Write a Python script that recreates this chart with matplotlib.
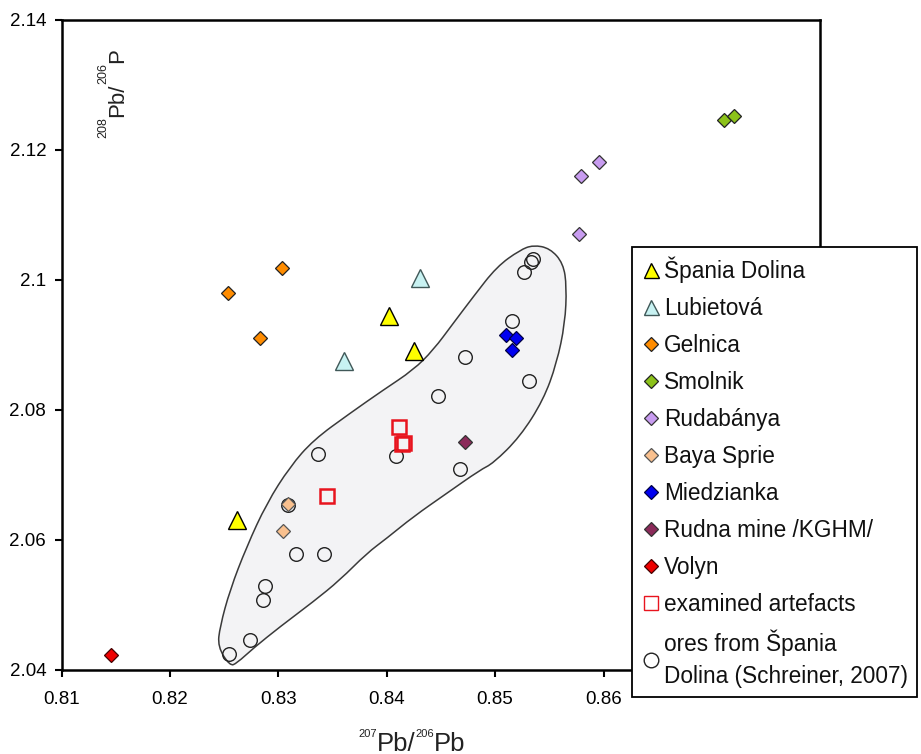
import numpy as np
import matplotlib
matplotlib.use("Agg")
import matplotlib.pyplot as plt
from matplotlib.path import Path
from matplotlib.patches import PathPatch
from matplotlib.lines import Line2D

plt.rcParams['font.family'] = ['Liberation Sans', 'DejaVu Sans']

# ---------------- data ----------------
spania_x = [0.8262, 0.8402, 0.8425]
spania_y = [2.0631, 2.0944, 2.0890]
lubietova_x = [0.8361, 0.8431]
lubietova_y = [2.0876, 2.1003]
gelnica_x = [0.8254, 0.8283, 0.8303]
gelnica_y = [2.0980, 2.0911, 2.1018]
smolnik_x = [0.8711, 0.8720]
smolnik_y = [2.1246, 2.1253]
rudabanya_x = [0.8577, 0.8579, 0.8596]
rudabanya_y = [2.1071, 2.1160, 2.1182]
baya_x = [0.8304, 0.8309]
baya_y = [2.0614, 2.0656]
miedzianka_x = [0.8510, 0.8519, 0.8516]
miedzianka_y = [2.0915, 2.0911, 2.0892]
rudna_x = [0.8472]
rudna_y = [2.0750]
volyn_x = [0.8146]
volyn_y = [2.0423]
artefacts_x = [0.8345, 0.8411, 0.8414, 0.8416]
artefacts_y = [2.0668, 2.0774, 2.0747, 2.0749]
ores_x = [0.82545, 0.8274, 0.82856, 0.8288, 0.8316, 0.8342, 0.8309, 0.8337,
          0.8409, 0.8468, 0.8447, 0.8472, 0.8516, 0.8531, 0.8527, 0.8533, 0.8535]
ores_y = [2.0424, 2.0446, 2.0508, 2.0529, 2.0578, 2.0578, 2.0654, 2.0733,
          2.0729, 2.0709, 2.0822, 2.0881, 2.0937, 2.0844, 2.1012, 2.1027, 2.1033]

# outline of the shaded Špania Dolina ore field
region_x = [0.82554, 0.82441, 0.82462, 0.82554, 0.82708, 0.82893, 0.83108, 0.83323,
            0.83661, 0.83969, 0.84245, 0.84430, 0.84614, 0.84799, 0.85015, 0.85230,
            0.85352, 0.85506, 0.85629, 0.85660, 0.85645, 0.85568, 0.85445, 0.85230,
            0.84983, 0.84861, 0.84554, 0.84245, 0.84000, 0.83816, 0.83569, 0.83323,
            0.83016, 0.82769, 0.82616]
region_y = [2.04062, 2.04358, 2.04666, 2.05231, 2.05897, 2.06565, 2.07128, 2.07538,
            2.07949, 2.08308, 2.08615, 2.08923, 2.09334, 2.09743, 2.10205, 2.10462,
            2.10538, 2.10488, 2.10257, 2.09897, 2.09334, 2.08718, 2.08154, 2.07589,
            2.07180, 2.07077, 2.06718, 2.06358, 2.06026, 2.05795, 2.05385, 2.05051,
            2.04666, 2.04334, 2.04103]

xticks = [0.81, 0.82, 0.83, 0.84, 0.85, 0.86, 0.87, 0.88]
xticklabels = ['0.81', '0.82', '0.83', '0.84', '0.85', '0.86', '', '']
yticks = [2.04, 2.06, 2.08, 2.10, 2.12, 2.14]
yticklabels = ['2.04', '2.06', '2.08', '2.1', '2.12', '2.14']

legend_labels = ['Špania Dolina', 'Lubietová', 'Gelnica', 'Smolnik', 'Rudabánya',
                 'Baya Sprie', 'Miedzianka', 'Rudna mine /KGHM/', 'Volyn',
                 'examined artefacts', 'ores from Špania\nDolina (Schreiner, 2007)']

# ---------------- figure ----------------
fig = plt.figure(figsize=(9.21, 7.54), dpi=100)
ax = fig.add_axes([61.5 / 921, 1 - 670 / 754, (820.3 - 61.5) / 921, 650 / 754])
ax.set_xlim(0.81, 0.88)
ax.set_ylim(2.04, 2.14)

# shaded field
pts = np.column_stack([region_x, region_y])
mids = (pts + np.roll(pts, -1, axis=0)) / 2
verts = [mids[-1]]
codes = [Path.MOVETO]
for i in range(len(pts)):
    verts += [pts[i], mids[i]]
    codes += [Path.CURVE3, Path.CURVE3]
verts.append(mids[-1])
codes.append(Path.CLOSEPOLY)
ax.add_patch(PathPatch(Path(verts, codes), facecolor='#f3f3f5', edgecolor='#3a3a3a',
                       lw=1.1, zorder=1))

dkw = dict(ls='none', marker='D', ms=6.8, mew=0.9, zorder=4)
ax.plot(ores_x, ores_y, ls='none', marker='o', ms=9.8, mfc='none', mec='#222222', mew=1.0, zorder=3)
ax.plot(artefacts_x, artefacts_y, ls='none', marker='s', ms=10.5, mfc='none', mec='#e8141e', mew=1.8, zorder=5)
ax.plot(spania_x, spania_y, ls='none', marker='^', ms=12.5, mfc='#ffff00', mec='black', mew=1.0, zorder=4)
ax.plot(lubietova_x, lubietova_y, ls='none', marker='^', ms=12.5, mfc='#c8f2f2', mec='#405858', mew=1.0, zorder=4)
ax.plot(gelnica_x, gelnica_y, mfc='#ff8c00', mec='#222222', **dkw)
ax.plot(smolnik_x, smolnik_y, mfc='#8cc21a', mec='#222222', **dkw)
ax.plot(rudabanya_x, rudabanya_y, mfc='#c89cf0', mec='#333333', **dkw)
ax.plot(baya_x, baya_y, mfc='#f9c08e', mec='#555555', **dkw)
ax.plot(miedzianka_x, miedzianka_y, mfc='#0000f0', mec='#000044', **dkw)
ax.plot(rudna_x, rudna_y, mfc='#8b2a5a', mec='#333333', **dkw)
ax.plot(volyn_x, volyn_y, mfc='#ee0000', mec='#440000', **dkw)

ax.set_xticks(xticks)
ax.set_xticklabels(xticklabels)
ax.set_yticks(yticks)
ax.set_yticklabels(yticklabels)
ax.tick_params(axis='both', direction='out', length=5, width=1.5, labelsize=13.5, colors='black')
ax.tick_params(axis='x', pad=10)
ax.tick_params(axis='y', pad=6)
for sp in ax.spines.values():
    sp.set_linewidth(1.8)
    sp.set_color('black')

# x axis label with small superscripts
t1 = fig.text(358 / 921, 1 - 729.3 / 754, '207', fontsize=8, ha='left', va='top', color='#222222')
t2 = ax.annotate('Pb/', xy=(1, 1), xycoords=t1, xytext=(0, -1.7), textcoords='offset points',
                 ha='left', va='top', fontsize=18.5, color='#222222')
t3 = ax.annotate('206', xy=(1, 1), xycoords=t2, xytext=(0, 1.7), textcoords='offset points',
                 ha='left', va='top', fontsize=8, color='#222222')
t4 = ax.annotate('Pb', xy=(1, 1), xycoords=t3, xytext=(0, -1.7), textcoords='offset points',
                 ha='left', va='top', fontsize=18.5, color='#222222')

# y axis label inside the plot
s1 = fig.text(97.7 / 921, 1 - 138.3 / 754, '208', rotation=90, fontsize=9, ha='left', va='bottom',
              color='#222222')
b1 = ax.annotate('Pb/', xy=(1, 1), xycoords=s1, xytext=(-1.9, 0), textcoords='offset points',
                 rotation=90, ha='left', va='bottom', fontsize=16, color='#222222')
s2 = ax.annotate('206', xy=(0, 1), xycoords=b1, xytext=(1.9, 0), textcoords='offset points',
                 rotation=90, ha='right', va='bottom', fontsize=9, color='#222222')
b2 = ax.annotate('P', xy=(1, 1), xycoords=s2, xytext=(-1.9, 0), textcoords='offset points',
                 rotation=90, ha='left', va='bottom', fontsize=16, color='#222222')

# legend
lkw = dict(ls='none', marker='D', ms=7.6, mew=0.9)
handles = [
    Line2D([], [], ls='none', marker='^', ms=10.8, mfc='#ffff00', mec='black', mew=1.0),
    Line2D([], [], ls='none', marker='^', ms=10.8, mfc='#c8f2f2', mec='#405858', mew=1.0),
    Line2D([], [], mfc='#ff8c00', mec='#222222', **lkw),
    Line2D([], [], mfc='#8cc21a', mec='#222222', **lkw),
    Line2D([], [], mfc='#c89cf0', mec='#333333', **lkw),
    Line2D([], [], mfc='#f9c08e', mec='#555555', **lkw),
    Line2D([], [], mfc='#0000f0', mec='#000044', **lkw),
    Line2D([], [], mfc='#8b2a5a', mec='#333333', **lkw),
    Line2D([], [], mfc='#ee0000', mec='#440000', **lkw),
    Line2D([], [], ls='none', marker='s', ms=10.5, mfc='none', mec='#e8141e', mew=1.0),
    Line2D([], [], ls='none', marker='o', ms=10.5, mfc='none', mec='#222222', mew=1.0),
]
leg = fig.legend(handles, legend_labels, loc='upper left',
                 bbox_to_anchor=(632 / 921, 1 - 247 / 754), bbox_transform=fig.transFigure,
                 borderaxespad=0, frameon=True, fancybox=False, edgecolor='black',
                 framealpha=1, fontsize=16.3, handlelength=0.87, handletextpad=0.15,
                 borderpad=0.4, labelspacing=0.62)
leg.get_frame().set_linewidth(1.3)
for t in leg.get_texts():
    t.set_linespacing(1.45)
    t.set_color('#111111')

fig.savefig('out.png', dpi=100)
